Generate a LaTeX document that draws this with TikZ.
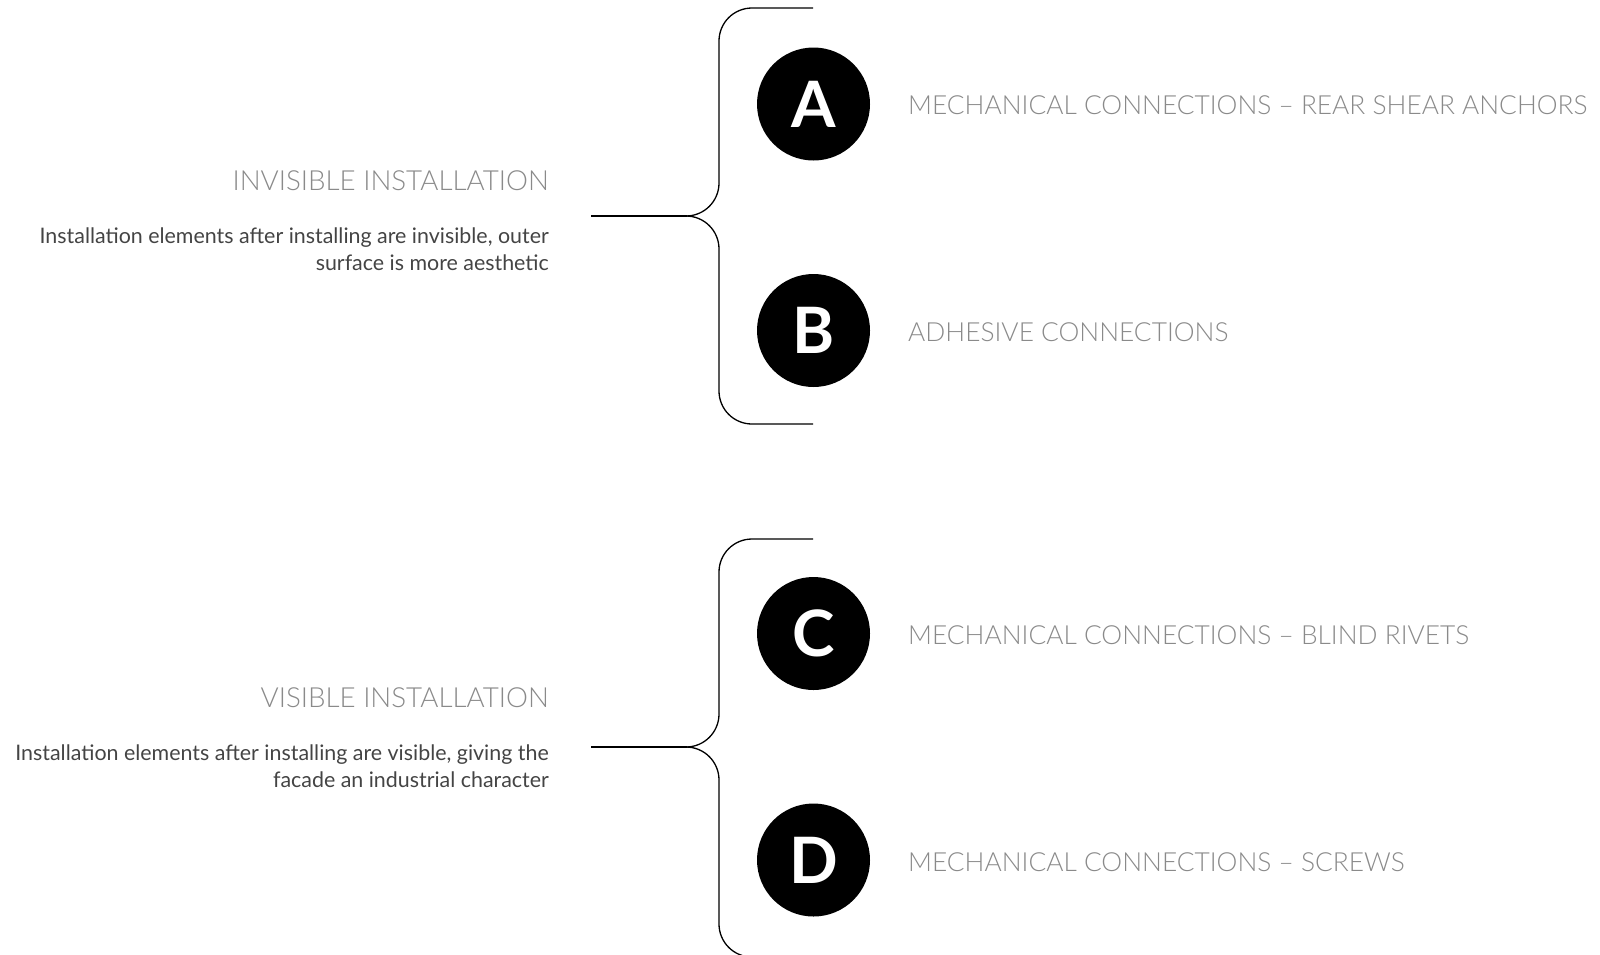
\documentclass[tikz,border=0pt]{standalone}
\usepackage{fontspec}
\setmainfont{Lato}
\newfontfamily\lightfont{Lato Light}
\definecolor{capgray}{HTML}{8A8A8A}
\definecolor{bodygray}{HTML}{444444}
\begin{document}
\begin{tikzpicture}[x=1pt,y=-1pt,
  letter/.style={circle,fill=black,minimum size=113pt,inner sep=0pt,text=white,font=\fontsize{64}{64}\selectfont\bfseries},
  captext/.style={anchor=base west,inner sep=0pt,text=capgray,font=\lightfont\fontsize{26.3}{30}\selectfont},
  titletext/.style={anchor=base east,inner sep=0pt,text=capgray,font=\lightfont\fontsize{27.7}{30}\selectfont},
  desctext/.style={anchor=base east,inner sep=0pt,text=bodygray,font=\fontsize{21.4}{27}\selectfont},
  bracel/.style={line width=1.3pt,rounded corners=33pt}]
\useasboundingbox (0,0) rectangle (1600,954);
% circles
\node[letter] (A) at (813.5,104) {A};
\node[letter] (B) at (813.5,330.5) {B};
\node[letter] (C) at (813.5,633.5) {C};
\node[letter] (D) at (813.5,860) {D};
% labels
\node[captext] (la) at (908,114) {MECHANICAL CONNECTIONS – REAR SHEAR ANCHORS};
\node[captext] (lb) at (908,341) {ADHESIVE CONNECTIONS};
\node[captext] (lc) at (908,644) {MECHANICAL CONNECTIONS – BLIND RIVETS};
\node[captext] (ld) at (908,871) {MECHANICAL CONNECTIONS – SCREWS};
% group texts
\node[titletext] (t1) at (549,190) {INVISIBLE INSTALLATION};
\node[desctext] (d1a) at (549,243) {Installation elements after installing are invisible, outer};
\node[desctext] (d1b) at (549,270) {surface is more aesthetic};
\node[titletext] (t2) at (549,707) {VISIBLE INSTALLATION};
\node[desctext] (d2a) at (549,760) {Installation elements after installing are visible, giving the};
\node[desctext] (d2b) at (549,787) {facade an industrial character};
% brace coordinates
\coordinate (b1top) at (813,8);
\coordinate (b1bot) at (813,424);
\coordinate (b1tip) at (687,216);
\coordinate (b1end) at (591,216);
\coordinate (b2top) at (813,539);
\coordinate (b2bot) at (813,957);
\coordinate (b2tip) at (687,747);
\coordinate (b2end) at (591,747);
% braces
\draw[bracel] (b1top) -- (719,8) -- (719,216) -- (b1tip);
\draw[bracel] (b1tip) -- (719,216) -- (719,424) -- (b1bot);
\draw[line width=1.3pt] (b1tip) -- (b1end);
\draw[bracel] (b2top) -- (719,539) -- (719,747) -- (b2tip);
\draw[bracel] (b2tip) -- (719,747) -- (719,957) -- (b2bot);
\draw[line width=1.3pt] (b2tip) -- (b2end);
\end{tikzpicture}
\end{document}
